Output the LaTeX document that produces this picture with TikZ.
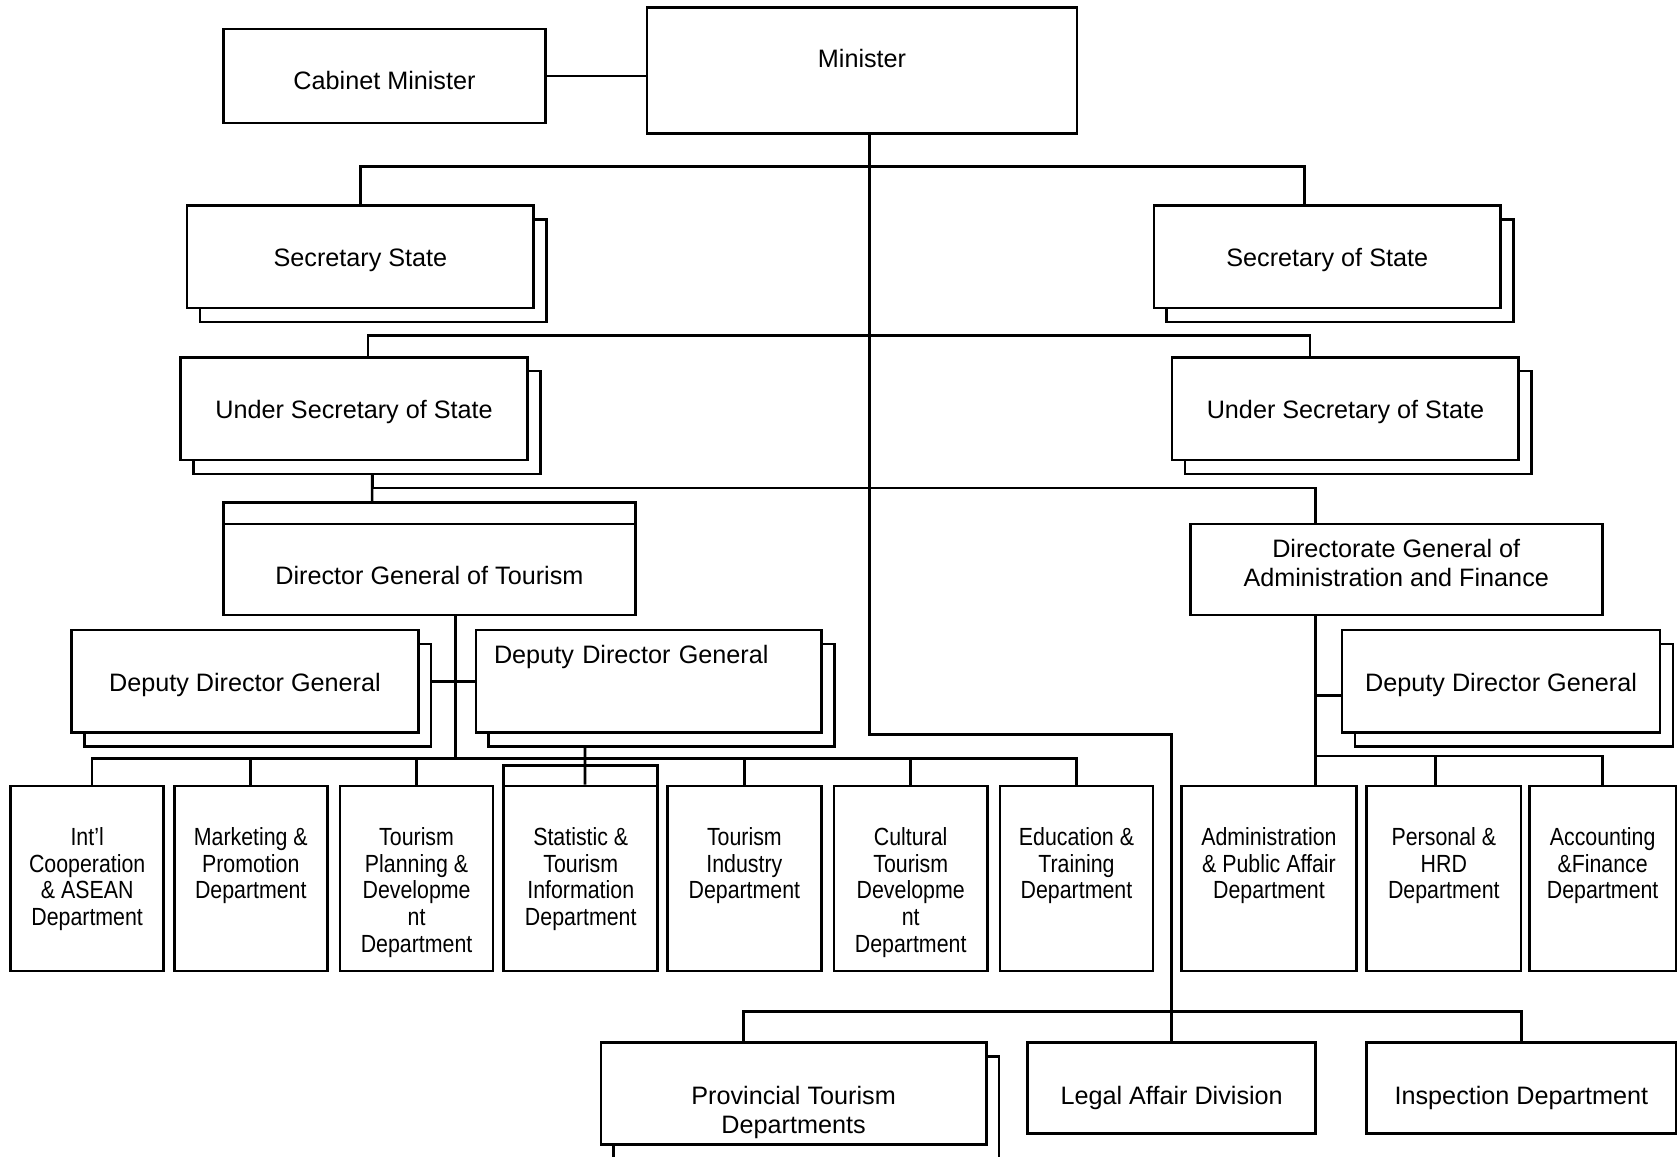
\documentclass[tikz,border=0pt]{standalone}
\usepackage{fontspec}
\setmainfont{Liberation Sans}
\newfontfamily\deptfont{Liberation Sans}[FakeStretch=0.86]
\usepackage{tikz}
\usetikzlibrary{positioning, calc, backgrounds, shadows}
\newcommand{\toplines}[2][1.35cm]{\parbox[t]{#1}{\centering #2}}
\tikzset{
    orgnode/.style={
        draw, fill=white, inner sep=0pt, align=center,
        text height=0.19cm, text depth=0pt,
        font=\fontsize{6.7}{7.7}\selectfont
    },
    stacknode/.style={
        orgnode, copy shadow={shadow xshift=0.12cm, shadow yshift=-0.13cm, fill=white, draw}
    },
    topstack/.style={
        orgnode, copy shadow={shadow xshift=0pt, shadow yshift=#1, fill=white, draw}
    },
    deptnode/.style={
        orgnode, minimum width=#1, text height=0.555cm, text depth=1.175cm,
        font=\deptfont\fontsize{6.6}{7.1}\selectfont
    }
}

\begin{document}
\begin{tikzpicture}[
        x=0.01cm, y=-0.01cm,
        line width=0.7pt,
        link/.style={draw, line width=0.7pt}
    ]
    \useasboundingbox (0,0) rectangle (1568,1081);

    % 1. CAC O CAP TREN
    \node[orgnode, minimum width=3.01cm, minimum height=0.88cm, text height=0.25cm] (cab) at (359.5,71) {Cabinet Minister};
    \node[orgnode, minimum width=4.02cm, text height=0.565cm, text depth=0.615cm] (min) at (806,66) {Minister};
    \node[stacknode, minimum width=3.24cm, minimum height=0.96cm] (secl) at (337,240) {Secretary State};
    \node[stacknode, minimum width=3.24cm, minimum height=0.96cm] (secr) at (1241,240) {Secretary of State};
    \node[stacknode, minimum width=3.24cm, minimum height=0.96cm] (usl) at (331,382) {Under Secretary of State};
    \node[stacknode, minimum width=3.24cm, minimum height=0.96cm] (usr) at (1258,382) {Under Secretary of State};

    % 2. TONG CUC
    \node[topstack=0.2cm, minimum width=3.85cm, minimum height=0.85cm, text height=0.28cm] (dgt) at (401.5,532.5) {Director General of Tourism};
    \node[orgnode, minimum width=3.85cm, text height=0.315cm, text depth=0.535cm] (dga) at (1305.5,532.5)
        {\toplines[3.6cm]{Directorate General of\\Administration and Finance}};
    \node[stacknode, minimum width=3.24cm, minimum height=0.96cm] (dpl) at (229,637) {Deputy Director General};
    \node[stacknode, text width=2.89cm, inner xsep=0.17cm, align=left, text height=0.315cm, text depth=0.645cm] (dpm) at (606.5,637) {Deputy Director General};
    \node[stacknode, minimum width=2.97cm, minimum height=0.96cm] (dpr) at (1403.5,637) {Deputy Director General};

    % 3. CAC VU
    \node[deptnode=1.43cm] (intl) at (81.5,821.5) {\toplines{Int’l\\Cooperation\\\& ASEAN\\Department}};
    \node[deptnode=1.43cm] (mkt) at (234.5,821.5) {\toplines{Marketing \&\\Promotion\\Department}};
    \node[deptnode=1.43cm] (plan) at (389.5,821.5) {\toplines{Tourism\\Planning \&\\Developme\\nt\\Department}};
    \node[topstack=0.19cm, deptnode=1.44cm] (stat) at (543,821.5) {\toplines{Statistic \&\\Tourism\\Information\\Department}};
    \node[deptnode=1.44cm] (ind) at (696,821.5) {\toplines{Tourism\\Industry\\Department}};
    \node[deptnode=1.43cm] (cult) at (851.5,821.5) {\toplines{Cultural\\Tourism\\Developme\\nt\\Department}};
    \node[deptnode=1.43cm] (edu) at (1006.5,821.5) {\toplines{Education \&\\Training\\Department}};
    \node[deptnode=1.63cm] (adm) at (1186.5,821.5) {\toplines{Administration\\\& Public Affair\\Department}};
    \node[deptnode=1.44cm] (pers) at (1350,821.5) {\toplines{Personal \&\\HRD\\Department}};
    \node[deptnode=1.37cm] (acc) at (1498.5,821.5) {\toplines{Accounting\\\&Finance\\Department}};

    % 4. CAP DUOI
    \node[stacknode, minimum width=3.60cm, text height=0.575cm, text depth=0.375cm] (prov) at (742,1022.5)
        {\toplines[3.4cm]{Provincial Tourism\\Departments}};
    \node[orgnode, minimum width=2.69cm, minimum height=0.85cm, text height=0.30cm] (legal) at (1095.5,1017.5) {Legal Affair Division};
    \node[orgnode, minimum width=2.89cm, minimum height=0.85cm, text height=0.30cm] (insp) at (1422.5,1017.5) {Inspection Department};

    % 5. DUONG NOI
    \coordinate (trunk) at (813,687);
    \begin{scope}[on background layer]
        \draw[link] (cab.east) -- (cab.east -| min.west);
        \draw[link] (min.south -| trunk) -- (trunk) -| (legal.north);
        \draw[link] (secl.north) -- ++(0,-35) -| ([xshift=-0.21cm]secr.north);
        \draw[link] ([xshift=0.13cm]usl.north) -- ++(0,-19) -| ([xshift=-0.33cm]usr.north);
        \draw[link] ([xshift=0.17cm]usl.south) -- ([xshift=-0.535cm]dgt.north);
        \draw[link] ([xshift=0.17cm]usl.south) -- ++(0,25) -| ([xshift=-0.755cm]dga.north);
        % vu thuoc tong cuc du lich
        \draw[link] ([xshift=0.245cm]dgt.south) -- ++(0,133) coordinate (dbus);
        \draw[link] ([xshift=0.045cm]intl.north) |- (dbus) -| (edu.north);
        \foreach \d in {mkt, plan, ind, cult}
            \draw[link] (\d.north) -- (\d.north |- dbus);
        \draw[link] (dpl.east) -- (dpm.west);
        % vu thuoc tong cuc hanh chinh
        \draw[link] ([xshift=-0.755cm]dga.south) coordinate (astem) -- ([xshift=0.435cm]adm.north);
        \draw[link] (astem) |- ([yshift=-0.13cm]dpr.west);
        \draw[link] ([xshift=0.435cm]adm.north) -- ++(0,-27) -| (acc.north);
        \draw[link] ([xshift=-0.08cm]pers.north) -- ++(0,-27);
        % cap duoi
        \draw[link] ([xshift=-0.47cm]prov.north) -- ++(0,-28) -| (insp.north);
    \end{scope}
    \draw[link] ([xshift=-0.595cm, yshift=-0.13cm]dpm.south) -- ([xshift=0.04cm]stat.north);
\end{tikzpicture}
\end{document}
